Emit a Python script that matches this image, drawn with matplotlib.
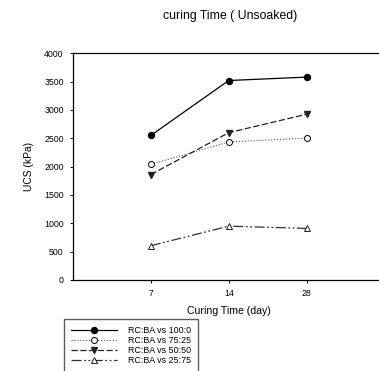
import matplotlib
matplotlib.use("Agg")
import matplotlib.pyplot as plt

days = ["7", "14", "28"]
ucs_100_0 = [2550, 3520, 3580]
ucs_75_25 = [2040, 2435, 2505]
ucs_50_50 = [1860, 2600, 2925]
ucs_25_75 = [605, 950, 910]
labels = ["RC:BA vs 100:0", "RC:BA vs 75:25", "RC:BA vs 50:50", "RC:BA vs 25:75"]

plt.rcParams["font.family"] = ["Liberation Sans", "DejaVu Sans"]

fig = plt.figure(figsize=(3.79, 3.71), dpi=100)
ax = fig.add_axes([0.192, 0.2453, 0.823, 0.611])

x = [1, 2, 3]
ax.plot(x, ucs_100_0, color="black", lw=0.9, marker="o", ms=4.3, label=labels[0])
ax.plot(x, ucs_75_25, color="#555555", lw=0.8, ls=":", marker="o", ms=4.3,
        mfc="white", mec="black", mew=0.7, label=labels[1])
ax.plot(x, ucs_50_50, color="#222222", lw=0.9, ls=(0, (5, 2)), marker="v", ms=4.3,
        label=labels[2])
ax.plot(x, ucs_25_75, color="#333333", lw=0.9, ls=(0, (8, 2, 1.5, 2, 1.5, 2)), marker="^",
        ms=4.3, mfc="white", mec="black", mew=0.6, label=labels[3])

ax.set_xlim(0, 4)
ax.set_ylim(0, 4000)
ax.set_xticks(x)
ax.set_xticklabels(days)
ax.set_yticks(range(0, 4001, 500))
ax.tick_params(labelsize=6.3, length=2.5, width=0.7, pad=4)
ax.spines["right"].set_visible(False)
for s in ["left", "bottom", "top"]:
    ax.spines[s].set_linewidth(0.9)

ax.set_xlabel("Curing Time (day)", fontsize=7.6, labelpad=6)
ax.set_ylabel("UCS (kPa)", fontsize=7.4, labelpad=7)
fig.text(0.607, 0.958, "curing Time ( Unsoaked)", ha="center", va="center", fontsize=8.8)

fig.legend(loc="upper left", bbox_to_anchor=(64 / 379, 1 - 319 / 371), fontsize=6.4,
           frameon=True, fancybox=False, edgecolor="#333333", handlelength=5.2,
           labelspacing=0.1, borderpad=0.8, handletextpad=1.2, borderaxespad=0)

fig.savefig("out.png", dpi=100)
